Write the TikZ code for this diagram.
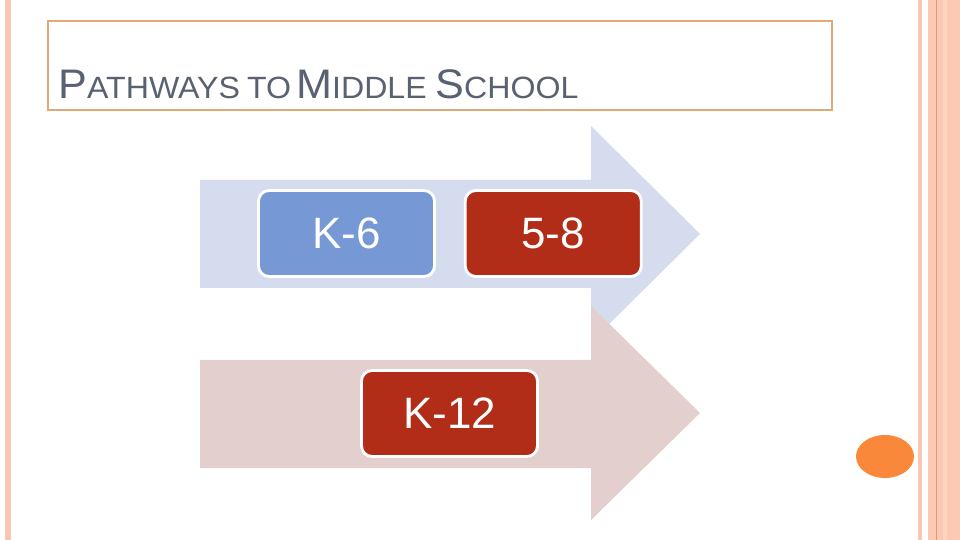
\documentclass[tikz,border=0pt]{standalone}
\usepackage{fontspec}
\setmainfont{Liberation Sans}
\newfontfamily\titlefont[FakeStretch=1.045]{Liberation Sans}
\usepackage{tikz}
\usetikzlibrary{positioning,calc}
\definecolor{arrowblue}{HTML}{D5DCEE}
\definecolor{arrowpink}{HTML}{E3CFCD}
\definecolor{boxblue}{HTML}{7698D5}
\definecolor{boxred}{HTML}{B12D17}
\definecolor{titleline}{HTML}{E0AA78}
\definecolor{titletext}{HTML}{5A6170}
\definecolor{edgepink}{HTML}{F9C6B5}
\definecolor{edgesalmon}{HTML}{FCCAB4}
\definecolor{edgedark}{HTML}{E29A76}
\definecolor{dotorange}{HTML}{F9883A}
\newcommand{\capword}[2]{{\fontsize{23.5}{24}\selectfont #1}{\fontsize{17.5}{20}\selectfont #2}}
\tikzset{
    grade/.style={
        rectangle,
        rounded corners=6pt,
        draw=white,
        line width=1.6pt,
        text=white,
        minimum width=3.52cm,
        minimum height=1.72cm,
        font=\fontsize{25}{26}\selectfont,
    },
    title/.style={
        anchor=base west,
        text=titletext,
        inner sep=0pt,
        font=\titlefont,
    },
}
\begin{document}
\begin{tikzpicture}[x=0.02cm,y=-0.02cm]
    \useasboundingbox (0,0) rectangle (960,540);
    \fill[white] (0,0) rectangle (960,540);
    % page edges
    \fill[edgepink] (5,0) rectangle (11,540);
    \fill[edgepink] (918,0) rectangle (922,540);
    \fill[edgesalmon] (928,0) rectangle (960,540);
    \fill[edgesalmon!80!orange!60] (943,0) rectangle (947,540);
    \draw[edgedark,line width=0.6pt] (936.5,0) -- (936.5,540);
    % title
    \draw[titleline,line width=0.6pt] (48,21) rectangle (832,110);
    \node[title] (head) at (58,99) {\capword{P}{ATHWAYS}\hspace{4pt}\capword{}{TO} \capword{M}{IDDLE}\hspace{2pt} \capword{S}{CHOOL}};
    % arrows
    \fill[arrowblue] (200,180) -- (591,180) -- (591,126) -- (700,234)
        -- (591,342) -- (591,288) -- (200,288) -- cycle;
    \fill[arrowpink] (200,360) -- (591,360) -- (591,306) -- (700,413)
        -- (591,520) -- (591,468) -- (200,468) -- cycle;
    % grades
    \node[grade,fill=boxblue] (k6) at (346.5,233.5) {K-6};
    \node[grade,fill=boxred,right=0.56cm of k6] (g58) {5-8};
    \node[grade,fill=boxred] (k12) at (449.5,413.5) {K-12};
    \fill[dotorange] (885,456.5) ellipse [x radius=29, y radius=21.5];
\end{tikzpicture}
\end{document}
